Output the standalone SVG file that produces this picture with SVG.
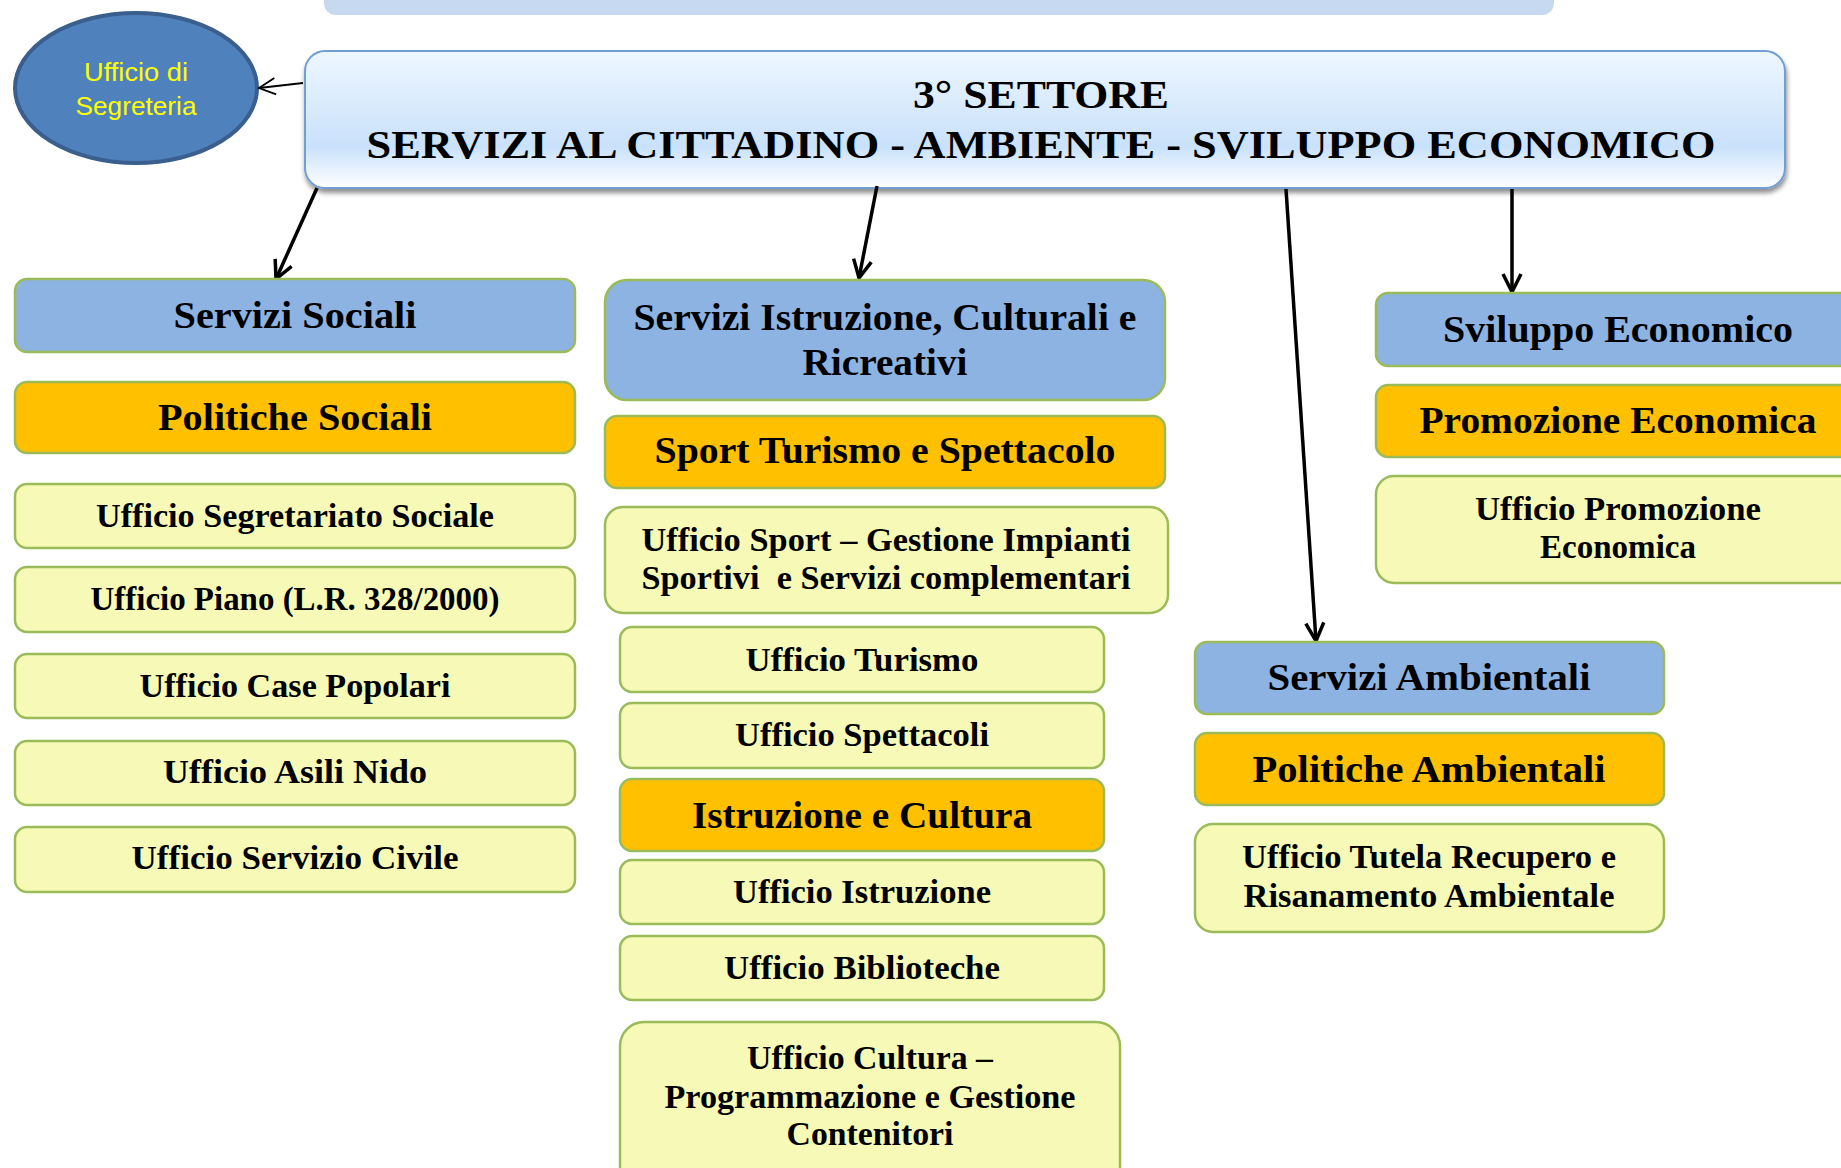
<svg xmlns="http://www.w3.org/2000/svg" width="1841" height="1168" viewBox="0 0 1841 1168">
<defs>
<style>
.blue{fill:#8db3e2;stroke:#9bbb59;stroke-width:2.5}
.orange{fill:#ffc000;stroke:#9bbb59;stroke-width:2.5}
.yellow{fill:#f6fab6;stroke:#9bbb59;stroke-width:2.5}
.h{font-family:"Liberation Serif","Times New Roman",serif;font-weight:bold;font-size:38px;fill:#000;text-anchor:middle}
.u{font-family:"Liberation Serif","Times New Roman",serif;font-weight:bold;font-size:33px;fill:#000;text-anchor:middle}
.t{font-family:"Liberation Serif","Times New Roman",serif;font-weight:bold;font-size:40px;fill:#000;text-anchor:middle}
.e{font-family:"Liberation Sans",Arial,sans-serif;font-size:25px;fill:#ffff00;text-anchor:middle}
.conn{stroke:#000;stroke-width:3.5;fill:none}
.thin{stroke:#000;stroke-width:2;fill:none}
</style>
<linearGradient id="g" x1="0" y1="0" x2="0" y2="1">
<stop offset="0" stop-color="#eef7ff"/>
<stop offset="0.7" stop-color="#c9e1fb"/>
<stop offset="1" stop-color="#ffffff"/>
</linearGradient>
<filter id="sh" x="-5%" y="-10%" width="110%" height="130%">
<feGaussianBlur in="SourceAlpha" stdDeviation="2.5"/>
<feOffset dx="1" dy="4" result="b"/>
<feComponentTransfer><feFuncA type="linear" slope="0.45"/></feComponentTransfer>
<feMerge><feMergeNode/><feMergeNode in="SourceGraphic"/></feMerge>
</filter>
<marker id="ah" viewBox="0 0 22 22" refX="20" refY="11" markerWidth="22" markerHeight="22" markerUnits="userSpaceOnUse" orient="auto">
<path d="M2,2 L20,11 L2,20" fill="none" stroke="#000" stroke-width="3.5"/>
</marker>
<marker id="ah2" viewBox="0 0 22 22" refX="20" refY="11" markerWidth="20" markerHeight="20" markerUnits="userSpaceOnUse" orient="auto">
<path d="M2,2 L20,11 L2,20" fill="none" stroke="#000" stroke-width="2"/>
</marker>
</defs>
<rect width="1841" height="1168" fill="#ffffff"/>

<g id="top-bar"><rect x="324" y="-30" width="1230" height="45" rx="12" fill="#c6d9f0"/></g>

<g id="segreteria">
<ellipse cx="136" cy="88" rx="121" ry="75" fill="#4f81bd" stroke="#3a5f8e" stroke-width="4"/>
<text class="e" x="136" y="81" textLength="104" lengthAdjust="spacingAndGlyphs">Ufficio di</text>
<text class="e" x="136" y="115" textLength="121" lengthAdjust="spacingAndGlyphs">Segreteria</text>
</g>

<g id="settore">
<rect x="305" y="51" width="1480" height="137" rx="20" fill="url(#g)" stroke="#6f9fd6" stroke-width="2" filter="url(#sh)"/>
<text class="t" x="1041" y="108" textLength="256" lengthAdjust="spacingAndGlyphs">3° SETTORE</text>
<text class="t" x="1041" y="158" textLength="1349" lengthAdjust="spacingAndGlyphs">SERVIZI AL CITTADINO - AMBIENTE - SVILUPPO ECONOMICO</text>
</g>

<g id="connectors">
<line class="thin" x1="303" y1="83" x2="259" y2="88" marker-end="url(#ah2)"/>
<line class="conn" x1="317" y1="188" x2="276" y2="279" marker-end="url(#ah)"/>
<line class="conn" x1="877" y1="186" x2="859" y2="278" marker-end="url(#ah)"/>
<line class="conn" x1="1286" y1="189" x2="1316" y2="641" marker-end="url(#ah)"/>
<line class="conn" x1="1512" y1="189" x2="1512" y2="292" marker-end="url(#ah)"/>
</g>

<g id="servizi-sociali"><rect class="blue" x="15" y="279" width="560" height="73" rx="12"/><text class="h" x="295" y="328" textLength="243" lengthAdjust="spacingAndGlyphs">Servizi Sociali</text></g>
<g id="politiche-sociali"><rect class="orange" x="15" y="382" width="560" height="71" rx="12"/><text class="h" x="295" y="430" textLength="274" lengthAdjust="spacingAndGlyphs">Politiche Sociali</text></g>
<g id="uff-segretariato"><rect class="yellow" x="15" y="484" width="560" height="64" rx="12"/><text class="u" x="295" y="527" textLength="398" lengthAdjust="spacingAndGlyphs">Ufficio Segretariato Sociale</text></g>
<g id="uff-piano"><rect class="yellow" x="15" y="567" width="560" height="65" rx="12"/><text class="u" x="295" y="610" textLength="409" lengthAdjust="spacingAndGlyphs">Ufficio Piano (L.R. 328/2000)</text></g>
<g id="uff-case"><rect class="yellow" x="15" y="654" width="560" height="64" rx="12"/><text class="u" x="295" y="697" textLength="311" lengthAdjust="spacingAndGlyphs">Ufficio Case Popolari</text></g>
<g id="uff-asili"><rect class="yellow" x="15" y="741" width="560" height="64" rx="12"/><text class="u" x="295" y="783" textLength="264" lengthAdjust="spacingAndGlyphs">Ufficio Asili Nido</text></g>
<g id="uff-civile"><rect class="yellow" x="15" y="827" width="560" height="65" rx="12"/><text class="u" x="295" y="869" textLength="327" lengthAdjust="spacingAndGlyphs">Ufficio Servizio Civile</text></g>

<g id="servizi-istruzione"><rect class="blue" x="605" y="280" width="560" height="120" rx="22"/><text class="h" x="885" y="330" textLength="503" lengthAdjust="spacingAndGlyphs">Servizi Istruzione, Culturali e</text><text class="h" x="885" y="375" textLength="165" lengthAdjust="spacingAndGlyphs">Ricreativi</text></g>
<g id="sport-turismo"><rect class="orange" x="605" y="416" width="560" height="72" rx="12"/><text class="h" x="885" y="463" textLength="461" lengthAdjust="spacingAndGlyphs">Sport Turismo e Spettacolo</text></g>
<g id="uff-sport"><rect class="yellow" x="605" y="507" width="563" height="106" rx="18"/><text class="u" x="886" y="551" textLength="489" lengthAdjust="spacingAndGlyphs">Ufficio Sport – Gestione Impianti</text><text class="u" x="886" y="589" textLength="489" lengthAdjust="spacingAndGlyphs">Sportivi &#160;e Servizi complementari</text></g>
<g id="uff-turismo"><rect class="yellow" x="620" y="627" width="484" height="65" rx="12"/><text class="u" x="862" y="671" textLength="233" lengthAdjust="spacingAndGlyphs">Ufficio Turismo</text></g>
<g id="uff-spettacoli"><rect class="yellow" x="620" y="703" width="484" height="65" rx="12"/><text class="u" x="862" y="746" textLength="254" lengthAdjust="spacingAndGlyphs">Ufficio Spettacoli</text></g>
<g id="istruzione-cultura"><rect class="orange" x="620" y="779" width="484" height="72" rx="12"/><text class="h" x="862" y="828" textLength="340" lengthAdjust="spacingAndGlyphs">Istruzione e Cultura</text></g>
<g id="uff-istruzione"><rect class="yellow" x="620" y="860" width="484" height="64" rx="12"/><text class="u" x="862" y="903" textLength="258" lengthAdjust="spacingAndGlyphs">Ufficio Istruzione</text></g>
<g id="uff-biblioteche"><rect class="yellow" x="620" y="936" width="484" height="64" rx="12"/><text class="u" x="862" y="979" textLength="276" lengthAdjust="spacingAndGlyphs">Ufficio Biblioteche</text></g>
<g id="uff-cultura"><rect class="yellow" x="620" y="1022" width="500" height="180" rx="24"/><text class="u" x="870" y="1069" textLength="246" lengthAdjust="spacingAndGlyphs">Ufficio Cultura –</text><text class="u" x="870" y="1108" textLength="411" lengthAdjust="spacingAndGlyphs">Programmazione e Gestione</text><text class="u" x="870" y="1145" textLength="167" lengthAdjust="spacingAndGlyphs">Contenitori</text></g>

<g id="sviluppo-economico"><rect class="blue" x="1376" y="293" width="484" height="73" rx="12"/><text class="h" x="1618" y="342" textLength="350" lengthAdjust="spacingAndGlyphs">Sviluppo Economico</text></g>
<g id="promozione-economica"><rect class="orange" x="1376" y="385" width="484" height="72" rx="12"/><text class="h" x="1618" y="433" textLength="397" lengthAdjust="spacingAndGlyphs">Promozione Economica</text></g>
<g id="uff-promozione"><rect class="yellow" x="1376" y="476" width="484" height="107" rx="18"/><text class="u" x="1618" y="520" textLength="286" lengthAdjust="spacingAndGlyphs">Ufficio Promozione</text><text class="u" x="1618" y="558" textLength="156" lengthAdjust="spacingAndGlyphs">Economica</text></g>

<g id="servizi-ambientali"><rect class="blue" x="1195" y="642" width="469" height="72" rx="12"/><text class="h" x="1429" y="690" textLength="323" lengthAdjust="spacingAndGlyphs">Servizi Ambientali</text></g>
<g id="politiche-ambientali"><rect class="orange" x="1195" y="733" width="469" height="72" rx="12"/><text class="h" x="1429" y="782" textLength="353" lengthAdjust="spacingAndGlyphs">Politiche Ambientali</text></g>
<g id="uff-tutela"><rect class="yellow" x="1195" y="824" width="469" height="108" rx="18"/><text class="u" x="1429" y="868" textLength="374" lengthAdjust="spacingAndGlyphs">Ufficio Tutela Recupero e</text><text class="u" x="1429" y="907" textLength="371" lengthAdjust="spacingAndGlyphs">Risanamento Ambientale</text></g>
</svg>
